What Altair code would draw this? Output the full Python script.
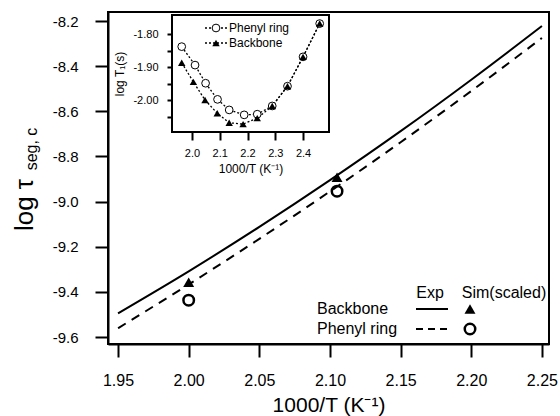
import altair as alt
import pandas as pd

FONT = "Liberation Sans"

# ---- main panel data ----
T_GRID = [1.95, 2.00, 2.05, 2.10, 2.15, 2.20, 2.25]
BACKBONE_EXP = [-9.495, -9.309, -9.112, -8.905, -8.688, -8.460, -8.222]
PHENYL_EXP = [-9.561, -9.367, -9.165, -8.955, -8.737, -8.510, -8.275]
SIM_T = [2.00, 2.105]
BACKBONE_SIM = [-9.357, -8.892]
PHENYL_SIM = [-9.437, -8.954]
X_TICKS = [1.95, 2.00, 2.05, 2.10, 2.15, 2.20, 2.25]
Y_TICKS = [-9.6, -9.4, -9.2, -9.0, -8.8, -8.6, -8.4, -8.2]

# ---- inset data ----
INSET_PHENYL_T = [1.963, 2.011, 2.049, 2.092, 2.134, 2.188, 2.235, 2.289, 2.344, 2.400, 2.460]
INSET_PHENYL_LOGT1 = [-1.838, -1.894, -1.949, -1.998, -2.030, -2.045, -2.043, -2.018, -1.958, -1.869, -1.768]
INSET_BACKBONE_T = [1.963, 2.005, 2.047, 2.091, 2.134, 2.184, 2.235, 2.289, 2.344, 2.400, 2.460]
INSET_BACKBONE_LOGT1 = [-1.887, -1.945, -2.000, -2.040, -2.069, -2.073, -2.055, -2.018, -1.958, -1.869, -1.768]
INSET_X_TICKS = [2.0, 2.1, 2.2, 2.3, 2.4]
INSET_Y_TICKS = [-2.05, -2.00, -1.95, -1.90, -1.85, -1.80]
INSET_X_DOMAIN = [1.928, 2.4935]
INSET_Y_DOMAIN = [-2.097, -1.742]

W, H = 441, 332

XM = alt.Scale(domain=[1.9429, 2.255], nice=False, zero=False)
YM = alt.Scale(domain=[-9.631, -8.16], nice=False, zero=False)

axis_common = dict(grid=False, domainColor="black", tickColor="black",
                   labelColor="black", titleColor="black", titleFontWeight="normal",
                   labelFont=FONT, titleFont=FONT)

ax_x = alt.Axis(values=X_TICKS, format=".2f", title="1000/T (K⁻¹)", titleFontSize=21,
                titleY=67, titleBaseline="alphabetic", labelFontSize=16, labelPadding=15,
                tickSize=13, tickWidth=2, domainWidth=2, **axis_common)
ax_y = alt.Axis(values=Y_TICKS, labelExpr="replace(format(datum.value, '.1f'), '\u2212', '-')",
                title=None, labelFontSize=15, labelPadding=17, tickSize=13, tickWidth=2,
                domainWidth=2, **axis_common)

exp_df = pd.DataFrame({"t": T_GRID, "bb": BACKBONE_EXP, "ph": PHENYL_EXP})
sim_df = pd.DataFrame({"t": SIM_T, "bb": BACKBONE_SIM, "ph": PHENYL_SIM})

solid = alt.Chart(exp_df).mark_line(color="black", strokeWidth=2, interpolate="monotone").encode(
    x=alt.X("t:Q", scale=XM, axis=ax_x), y=alt.Y("bb:Q", scale=YM, axis=ax_y))
dashed = alt.Chart(exp_df).mark_line(color="black", strokeWidth=2, strokeDash=[9, 7],
                                     interpolate="monotone").encode(
    x=alt.X("t:Q", scale=XM), y=alt.Y("ph:Q", scale=YM))
tri = alt.Chart(sim_df).mark_point(shape="triangle-up", filled=True, size=120, color="black",
                                   opacity=1).encode(
    x=alt.X("t:Q", scale=XM), y=alt.Y("bb:Q", scale=YM))
circ = alt.Chart(sim_df).mark_point(shape="circle", filled=False, size=110, color="black",
                                    strokeWidth=2.5, opacity=1).encode(
    x=alt.X("t:Q", scale=XM), y=alt.Y("ph:Q", scale=YM))
main = alt.layer(solid, dashed, tri, circ)

# ---- inset ----
XI = alt.Scale(domain=INSET_X_DOMAIN, range=[64, 221], nice=False, zero=False)
YI = alt.Scale(domain=INSET_Y_DOMAIN, range=[120, 3], nice=False, zero=False)

ax_xi = alt.Axis(orient="bottom", offset=-212, values=INSET_X_TICKS, format=".1f",
                 title="1000/T (K⁻¹)", titleFontSize=12, titleY=40, titleBaseline="alphabetic",
                 labelFontSize=11, labelPadding=7, tickSize=8, tickWidth=2, domain=False,
                 **axis_common)
ax_yi = alt.Axis(orient="left", offset=-64, values=INSET_Y_TICKS,
                 labelExpr="abs(datum.value*10 - round(datum.value*10)) < 0.01 ? replace(format(datum.value, '.2f'), '\u2212', '-') : ''",
                 title="log T₁(s)", titleFontSize=12, titleX=-53, titleAngle=270,
                 titleBaseline="middle", titleAlign="center",
                 labelFontSize=11, labelPadding=9, tickSize=5, tickWidth=2, domain=False,
                 **axis_common)

frame_df = pd.DataFrame({"x0": [INSET_X_DOMAIN[0]], "x1": [INSET_X_DOMAIN[1]],
                         "y0": [INSET_Y_DOMAIN[0]], "y1": [INSET_Y_DOMAIN[1]]})
frame = alt.Chart(frame_df).mark_rect(fill="white", stroke="black", strokeWidth=2).encode(
    x=alt.X("x0:Q", scale=XI, axis=ax_xi), x2="x1",
    y=alt.Y("y0:Q", scale=YI, axis=ax_yi), y2="y1")

ph_df = pd.DataFrame({"t": INSET_PHENYL_T, "v": INSET_PHENYL_LOGT1})
bb_df = pd.DataFrame({"t": INSET_BACKBONE_T, "v": INSET_BACKBONE_LOGT1})

ph_line = alt.Chart(ph_df).mark_line(color="black", strokeWidth=1.3, strokeDash=[2, 2]).encode(
    x=alt.X("t:Q", scale=XI), y=alt.Y("v:Q", scale=YI))
bb_line = alt.Chart(bb_df).mark_line(color="black", strokeWidth=1.3, strokeDash=[2, 2]).encode(
    x=alt.X("t:Q", scale=XI), y=alt.Y("v:Q", scale=YI))
ph_pts = alt.Chart(ph_df).mark_point(shape="circle", filled=True, fill="white", stroke="black",
                                     strokeWidth=1, size=60, opacity=1).encode(
    x=alt.X("t:Q", scale=XI), y=alt.Y("v:Q", scale=YI))
bb_pts = alt.Chart(bb_df).mark_point(shape="triangle-up", filled=True, color="black",
                                     size=55, opacity=1).encode(
    x=alt.X("t:Q", scale=XI), y=alt.Y("v:Q", scale=YI))
inset = alt.layer(frame, ph_line, bb_line, ph_pts, bb_pts)

# ---- annotations / legends ----
one = pd.DataFrame({"a": [0]})


def text(s, x, y, size, align="left", angle=0):
    kw = dict(font=FONT, fontSize=size, align=align, baseline="middle", color="black")
    if angle:
        kw["angle"] = angle
    return alt.Chart(one).mark_text(**kw).encode(
        x=alt.value(x), y=alt.value(y), text=alt.value(s))


def rule(x1, x2, y, dash=None, width=2):
    kw = dict(color="black", strokeWidth=width)
    if dash:
        kw["strokeDash"] = dash
    return alt.Chart(one).mark_rule(**kw).encode(x=alt.value(x1), x2=alt.value(x2), y=alt.value(y))


def marker(shape, x, y, size, filled, sw=2):
    if filled:
        m = alt.Chart(one).mark_point(shape=shape, filled=True, color="black", size=size, opacity=1)
    else:
        m = alt.Chart(one).mark_point(shape=shape, filled=True, fill="white", stroke="black",
                                      strokeWidth=sw, size=size, opacity=1)
    return m.encode(x=alt.value(x), y=alt.value(y))


legend = alt.layer(
    # y-axis title
    text("log τ", -83, 193, 26, align="center", angle=270),
    text("seg, c", -76, 137, 16, align="center", angle=270),
    # main legend
    text("Exp", 322, 281, 16, align="center"),
    text("Sim(scaled)", 396, 281, 16, align="center"),
    text("Backbone", 209, 297, 16),
    text("Phenyl ring", 209, 317, 16),
    rule(308, 340, 297),
    rule(308, 340, 317, dash=[7, 5]),
    marker("triangle-up", 362, 297, 120, True),
    marker("circle", 362, 317, 110, False, 2.5),
    # inset legend
    rule(97, 119, 16, dash=[2, 2], width=1.3),
    rule(97, 119, 31, dash=[2, 2], width=1.3),
    marker("circle", 108, 16, 60, False, 1),
    marker("triangle-up", 108, 31, 55, True),
    text("Phenyl ring", 121, 16, 12),
    text("Backbone", 121, 31, 12),
)

chart = alt.layer(main, inset, legend).resolve_scale(
    x="independent", y="independent"
).properties(
    width=W, height=H,
    padding={"left": 108, "top": 12, "right": 11, "bottom": 72},
    autosize=alt.AutoSizeParams(type="none"),
    background="white",
).configure_view(stroke="black", strokeWidth=2).configure_text(font=FONT)

chart.save("out.html", embed_options={"renderer": "svg", "actions": False})
